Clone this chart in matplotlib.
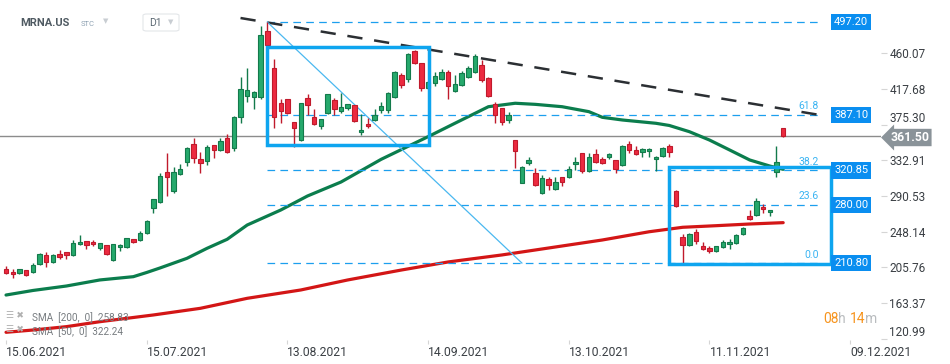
import matplotlib
matplotlib.use("Agg")
import matplotlib.pyplot as plt
from matplotlib.patches import Rectangle, FancyBboxPatch
import numpy as np

plt.rcParams['font.family'] = ['Roboto', 'DejaVu Sans']
plt.rcParams['lines.scale_dashes'] = False

# daily candles MRNA.US, 15.06.2021 - 29.11.2021
opens = [203.7, 199.8, 198.6, 202.2, 199.8, 209.3, 220.0, 212.4, 221.2, 223.6,
         220.0, 233.1, 236.6, 235.5, 228.3, 231.9, 214.0, 229.5, 229.5, 239.0,
         237.8, 246.2, 275.9, 283.0, 318.6, 296.8, 317.0, 330.5, 351.9, 334.1,
         331.7, 350.7, 344.8, 359.4, 347.2, 384.0, 409.0, 408.5, 407.8, 486.2,
         442.2, 400.7, 405.4, 378.1, 356.7, 406.6, 384.0, 373.3, 388.8, 404.2,
         391.1, 394.7, 398.3, 366.2, 375.7, 380.4, 392.3, 392.3, 407.8, 433.9,
         429.2, 462.4, 448.2, 418.5, 425.1, 429.9, 438.2, 415.6, 422.8, 432.3,
         438.2, 446.2, 430.3, 399.5, 394.7, 380.4, 356.7, 306.3, 330.1, 317.5,
         293.7, 310.3, 298.5, 312.7, 312.7, 328.1, 341.2, 320.6, 340.0, 334.1,
         336.5, 332.9, 327.0, 351.9, 344.8, 342.4, 343.6, 334.1, 337.7, 349.5,
         296.8, 241.4, 231.9, 247.3, 230.7, 228.3, 224.8, 229.5, 233.1, 234.3,
         245.0, 266.4, 267.6, 277.1, 271.1, 318.6, 370.9]
highs = [207.0, 203.4, 204.0, 203.0, 210.5, 222.5, 223.6, 221.0, 226.3, 224.5,
         238.2, 244.1, 237.5, 238.2, 235.0, 232.5, 234.0, 233.4, 241.0, 239.5,
         248.5, 261.5, 287.5, 317.8, 341.2, 324.6, 328.5, 349.1, 359.0, 342.8,
         350.7, 351.5, 359.0, 364.2, 385.5, 431.5, 442.3, 415.0, 492.5, 497.2,
         453.0, 405.4, 406.0, 378.5, 401.5, 411.3, 393.5, 382.5, 412.0, 406.6,
         412.5, 400.3, 399.0, 387.6, 382.8, 393.5, 401.8, 413.5, 438.5, 436.3,
         460.0, 463.6, 449.0, 427.5, 437.5, 441.0, 439.9, 433.9, 438.7, 445.0,
         458.9, 452.1, 431.5, 401.8, 395.5, 390.3, 357.5, 326.5, 337.2, 324.1,
         315.8, 313.4, 312.7, 313.5, 326.5, 336.5, 342.0, 341.6, 346.3, 337.2,
         341.2, 333.5, 351.0, 355.8, 349.9, 347.9, 347.5, 338.0, 348.5, 352.3,
         297.6, 245.0, 246.0, 250.9, 235.5, 230.7, 231.5, 237.8, 239.0, 245.0,
         253.4, 273.5, 287.8, 280.6, 274.0, 349.5, 371.5]
lows = [197.5, 193.4, 197.4, 195.0, 199.0, 208.5, 205.8, 211.0, 216.0, 216.0,
        219.0, 231.9, 227.0, 230.7, 226.0, 220.5, 213.0, 224.8, 229.0, 234.3,
        237.0, 245.0, 270.6, 282.0, 290.8, 293.7, 316.0, 326.1, 329.3, 318.2,
        327.3, 336.0, 344.0, 341.5, 343.6, 377.0, 402.5, 393.5, 406.0, 468.0,
        371.6, 376.9, 387.6, 348.4, 355.5, 386.4, 375.0, 369.7, 388.0, 386.4,
        388.8, 392.7, 378.5, 362.6, 370.9, 379.5, 388.8, 388.8, 406.5, 418.5,
        426.3, 447.0, 414.9, 417.5, 421.2, 428.0, 406.1, 414.5, 421.5, 431.0,
        436.5, 425.6, 407.8, 377.2, 375.2, 377.6, 323.2, 305.6, 327.3, 302.4,
        293.0, 297.6, 297.6, 302.7, 311.5, 321.7, 318.2, 319.0, 330.0, 328.5,
        334.8, 317.5, 326.0, 341.2, 339.2, 337.2, 336.5, 320.6, 336.5, 337.4,
        277.8, 210.8, 230.5, 233.1, 226.0, 222.4, 224.0, 229.0, 227.2, 233.0,
        243.8, 262.0, 266.4, 269.9, 266.4, 312.7, 361.0]
closes = [198.6, 197.4, 203.4, 196.2, 208.1, 221.2, 211.7, 220.0, 217.6, 220.7,
          234.3, 235.5, 231.9, 233.1, 234.3, 221.2, 233.1, 231.9, 240.2, 235.5,
          246.2, 260.8, 286.6, 314.3, 313.4, 318.6, 322.2, 347.5, 335.3, 329.3,
          348.7, 344.8, 355.8, 342.4, 384.4, 417.3, 416.1, 413.7, 481.5, 469.6,
          384.0, 391.1, 388.8, 370.9, 400.7, 398.3, 375.7, 381.6, 411.3, 393.5,
          395.9, 399.5, 379.3, 368.6, 373.3, 386.4, 397.1, 412.5, 437.5, 422.0,
          458.9, 448.2, 418.5, 426.3, 433.1, 438.2, 421.6, 423.2, 436.3, 442.2,
          456.9, 428.3, 409.7, 386.8, 378.1, 386.4, 343.4, 324.6, 332.9, 303.9,
          311.5, 303.0, 306.8, 307.5, 322.2, 330.5, 320.6, 337.2, 331.2, 330.1,
          340.0, 322.9, 349.9, 344.8, 340.8, 346.0, 346.0, 336.5, 347.2, 342.4,
          279.0, 231.9, 244.9, 236.6, 227.2, 224.8, 230.7, 235.5, 235.5, 243.8,
          252.2, 262.8, 284.2, 274.7, 273.5, 330.5, 361.5]

# moving averages (candle index, value)
sma50_idx = [0, 4, 9, 14, 19, 21, 23, 27, 30, 33, 36, 41, 45, 50, 56, 63, 67, 72,
             76, 79, 83, 87, 89, 92, 97, 99, 102, 105, 108, 111, 114, 116]
sma50_val = [172.8, 178.2, 183.5, 190.7, 194.6, 199.6, 205.0, 216.4, 228.3, 239.0,
             256.0, 273.8, 290.5, 307.1, 334.1, 361.0, 376.9, 396.6, 400.7, 399.4,
             396.6, 390.7, 384.0, 380.8, 376.9, 374.3, 366.9, 357.0, 345.2, 333.3,
             326.1, 322.2]
sma200_idx = [0, 4, 9, 14, 22, 29, 36, 44, 51, 59, 66, 74, 81, 89, 96, 101, 106, 111, 116]
sma200_val = [128.5, 131.2, 135.2, 141.1, 149.1, 157.0, 168.9, 178.8, 190.7, 202.5,
              212.1, 220.4, 228.7, 238.2, 248.0, 253.3, 255.2, 257.2, 258.8]

fib_levels = [497.20, 387.10, 320.85, 280.00, 210.80]
fib_names = ['', '61.8', '38.2', '23.6', '0.0']
price_ticks = [460.07, 417.68, 375.30, 332.91, 290.53, 248.14, 205.76, 163.37, 120.99]
date_idx = [0, 21, 42, 63, 84, 105, 126]
date_labels = ['15.06.2021', '15.07.2021', '13.08.2021', '14.09.2021',
               '13.10.2021', '11.11.2021', '09.12.2021']
last_price = 361.50

W, H = 950, 364
fig = plt.figure(figsize=(W / 100, H / 100), dpi=100)
ax = fig.add_axes([0, 1 - 340 / H, 881 / W, 340 / H])
ax.set_xlim(-0.9, 130.6)
ax.set_ylim(119.35, 523.41)

GREEN, GREEN_E = '#26a96c', '#137a4b'
RED, RED_E = '#ec2a40', '#c01a2c'
BLUE = '#0ea5ef'
LBLUE = '#3ab4f2'

# SMA lines
ax.plot(sma200_idx, sma200_val, color='#d31616', lw=2.3, solid_capstyle='round', zorder=2)
ax.plot(sma50_idx, sma50_val, color='#0b7d4d', lw=2.3, solid_capstyle='round', zorder=2)

# candles
o = np.array(opens); h = np.array(highs); l = np.array(lows); c = np.array(closes)
x = np.arange(len(o))
up = c >= o
fill = np.where(up, GREEN, RED)
edge = np.where(up, GREEN_E, RED_E)
ax.vlines(x, l, h, colors=edge, lw=1, zorder=3)
ax.bar(x, np.maximum(np.abs(c - o), 0.8), bottom=np.minimum(o, c), width=0.66,
       color=fill, edgecolor=edge, linewidth=0.8, zorder=4)

# last price line
ax.axhline(last_price, color='#8c8c8c', lw=1, zorder=1)

# fibonacci levels
for lev, name in zip(fib_levels, fib_names):
    ax.plot([39, 121.5], [lev, lev], color='#1c9fee', lw=0.9,
            linestyle=(0, (5.5, 3.8)), zorder=2)
    if name:
        ax.text(121.3, lev + 4, name, color=LBLUE, fontsize=7.5, ha='right', va='bottom', zorder=5)
    ax.text(123.6, lev, f'{lev:.2f}', color='white', fontsize=8, ha='left', va='center',
            zorder=6, bbox=dict(boxstyle='square,pad=0.28', fc='#0a8ef0', ec='none'))

# trend line and diagonal
ax.plot([35, 121.5], [502.0, 386.7], color='#2b2f33', lw=1.8,
        linestyle=(0, (11, 8.5)), zorder=2)
ax.plot([39, 77], [497.2, 210.8], color='#4ab8f0', lw=0.9, zorder=2)

# rectangles
ax.add_patch(Rectangle((39, 351.1), 24.1, 116.1, fill=False, ec=BLUE, lw=2.5, zorder=5))
ax.add_patch(Rectangle((99, 209.7), 24.1, 115.2, fill=False, ec=BLUE, lw=2.5, zorder=5))

# axes styling
for s in ax.spines.values():
    s.set_visible(False)
ax.yaxis.tick_right()
ax.set_yticks(price_ticks)
ax.set_yticklabels([f'{t:.2f}' for t in price_ticks])
ax.tick_params(axis='y', length=4, color='#d5d5d5', labelcolor='#3a3f44',
               labelsize=8.5, pad=2)
ax.get_yticklabels()[-1].set_va('bottom')
ax.get_yticklabels()[2].set_va('bottom')
ax.set_xticks(date_idx)
ax.set_xticklabels(date_labels)
for lab in ax.get_xticklabels():
    lab.set_ha('left')
ax.tick_params(axis='x', length=3, color='#d5d5d5', labelcolor='#3a3f44',
               labelsize=8.7, pad=1)

# last price tag
ax.text(132.0, last_price - 1.5, f'{last_price:.2f}', color='white', fontsize=8.8,
        fontweight='bold', ha='left', va='center', clip_on=False, zorder=7,
        bbox=dict(boxstyle='larrow,pad=0.18', fc='#8a9399', ec='none'))

# header
def fx(px):
    return px / W
def fy(py):
    return 1 - py / H
fig.text(fx(20), fy(23), 'MRNA.US', fontsize=8, fontweight='bold', color='#4f5a62', va='center')
fig.text(fx(81), fy(24), 'STC', fontsize=5.5, color='#8fa2b3', va='center')
fig.text(fx(103), fy(22), '▼', fontsize=5, color='#c8cdd2', va='center')
fig.patches.append(FancyBboxPatch((fx(143), fy(31)), fx(36), 17 / H,
                                  boxstyle='round,pad=0,rounding_size=0.004',
                                  transform=fig.transFigure, fc='white', ec='#e3e6e9', lw=0.8))
fig.text(fx(149), fy(23), 'D1', fontsize=7.5, color='#5d6a74', va='center')
fig.text(fx(168), fy(23), '▼', fontsize=5, color='#c8cdd2', va='center')

# SMA legend
fig.text(fx(6), fy(316), '☰ ✖', fontsize=6.5, color='#b0b0b0', va='center')
fig.text(fx(32), fy(318), 'SMA  [200,  0]  258.83', fontsize=7.2, color='#777c80', va='center')
fig.text(fx(6), fy(330), '☰ ✖', fontsize=6.5, color='#b0b0b0', va='center')
fig.text(fx(32), fy(332), 'SMA  [50,  0]  322.24', fontsize=7.2, color='#777c80', va='center')

# countdown
fig.text(fx(823), fy(319), '08', fontsize=10, color='#f7941d', va='center')
fig.text(fx(838), fy(319), 'h', fontsize=10, color='#b9bcbf', va='center')
fig.text(fx(850), fy(319), '14', fontsize=10, color='#f7941d', va='center')
fig.text(fx(865), fy(319), 'm', fontsize=10, color='#b9bcbf', va='center')

fig.savefig('out.png', dpi=100, facecolor='white')
